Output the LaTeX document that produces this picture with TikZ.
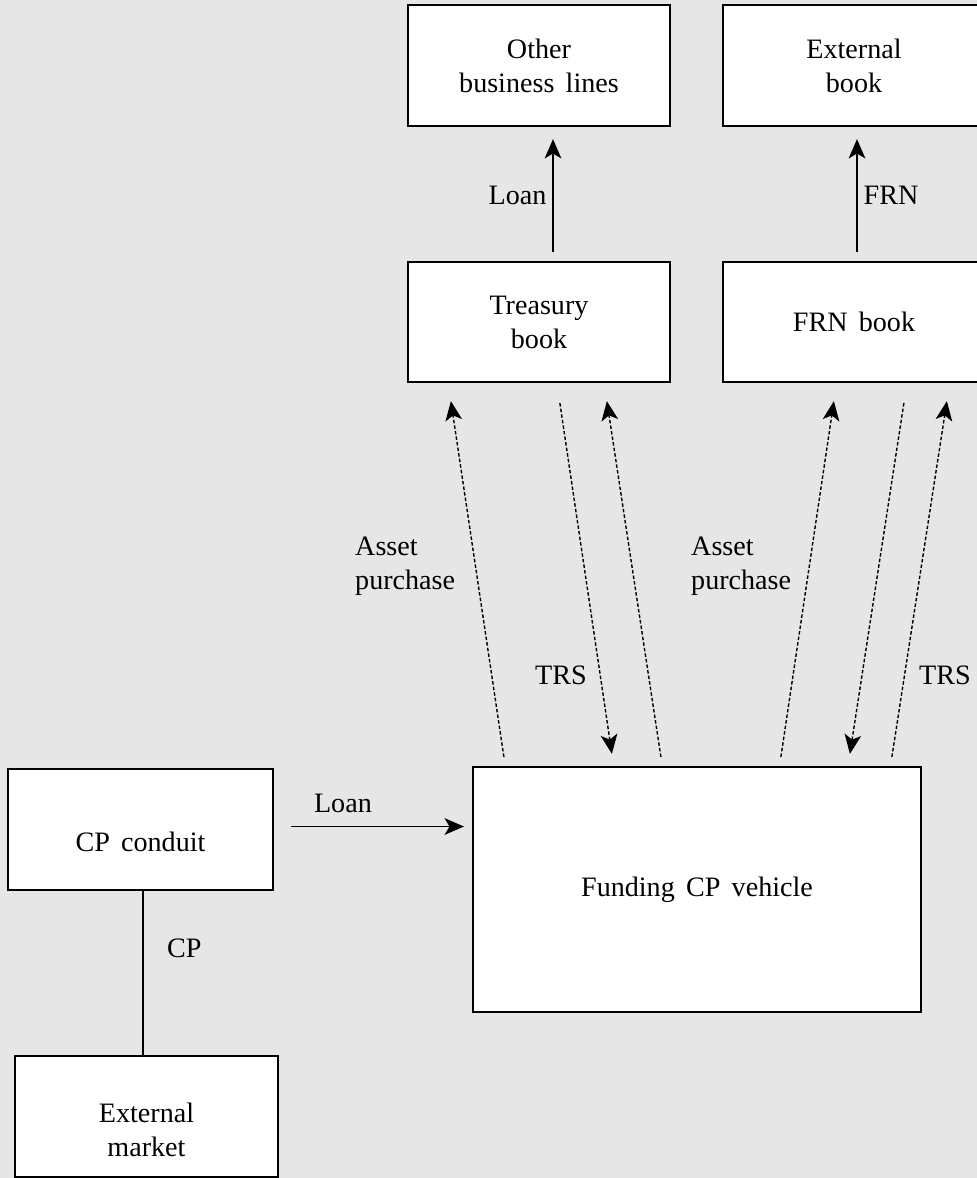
\documentclass[tikz,border=0pt]{standalone}
\usepackage{fontspec}
\setmainfont{Liberation Serif}[WordSpace=1.6]
\usetikzlibrary{arrows.meta,calc}
\definecolor{bggray}{RGB}{230,230,230}

\begin{document}
\begin{tikzpicture}[x=0.02cm, y=-0.02cm,
  font=\fontsize{16}{19.3}\selectfont,
  box/.style={draw, line width=1.3pt, fill=white, align=center, inner sep=0pt},
  flow/.style={-{Stealth[length=11pt, width=9.5pt, inset=2.8pt]}, line width=0.9pt},
  swap/.style={flow, line width=0.8pt, dash pattern=on 2pt off 1.2pt}]
\useasboundingbox (0,0) rectangle (977,1178);
\fill [bggray] (0,0) rectangle (977,1178);

% Books
\node [box, minimum width=5.24cm, minimum height=2.42cm] (ob) at (539,65.5) {Other\\business lines};
\node [box, minimum width=5.24cm, minimum height=2.42cm] (eb) at (854,65.5) {External\\book};
\node [box, minimum width=5.24cm, minimum height=2.4cm] (tb) at (539,322) {Treasury\\book};
\node [box, minimum width=5.24cm, minimum height=2.4cm] (frn) at (854,322) {FRN book};

% Conduit and vehicle
\node [box, minimum width=5.3cm, minimum height=2.42cm,
  label={[yshift=-0.24cm]center:CP conduit}] (cpc) at (140.5,829.5) {};
\node [box, minimum width=5.26cm, minimum height=2.42cm,
  label={[yshift=-0.26cm, align=center]center:External\\market}] (em) at (146.5,1116.5) {};
\node [box, minimum width=8.96cm, minimum height=4.9cm] (fcp) at (697,889.5) {Funding CP vehicle};

% Solid flows
\draw [flow] ($(tb.north)+(14,-9)$) -- ($(ob.south)+(14,12)$) node [midway, left] (loan1) {Loan};
\draw [flow] ($(frn.north)+(3,-9)$) -- ($(eb.south)+(3,12)$) node [midway, right] (frnl) {FRN};
\draw [flow] ($(cpc.east)+(17,-3)$) -- ($(cpc.east -| fcp.west)+(-8,-3)$) node [pos=.3, above=4pt] (loan2) {Loan};
\draw [line width=0.9pt] ($(cpc.south)+(2.5,0)$) -- ($(em.north)+(-3.5,0)$) node [pos=.35, right=10pt] (cp) {CP};

% Asset purchases, up
\foreach \a/\b/\c in {32/tb/44, 189/tb/200, 309/frn/112, 420/frn/225}
  \draw [swap] ($(fcp.north west)+(\a,-9)$) -- ($(\b.south west)+(\c,18)$);
% TRS, down
\foreach \b/\c/\a in {tb/153/140, frn/182/378}
  \draw [swap] ($(\b.south west)+(\c,20)$) -- ($(fcp.north west)+(\a,-12)$);

\node [align=left, anchor=west] (ap1) at (349,566) {Asset\\purchase};
\node [align=left, anchor=west] (ap2) at (685,566) {Asset\\purchase};
\node (trs1) at (561,675) {TRS};
\node (trs2) at (945,675) {TRS};
\end{tikzpicture}
\end{document}
